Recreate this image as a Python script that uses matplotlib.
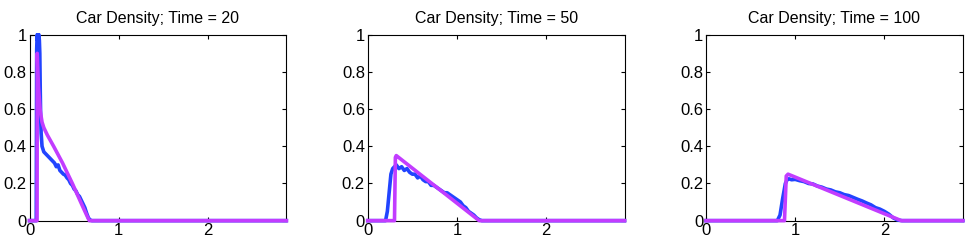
import numpy as np
import matplotlib.pyplot as plt

plt.rcParams['font.family'] = ['Liberation Sans', 'DejaVu Sans']

times = [20, 50, 100]

# simulated (blue) density profiles
sim_x20 = [0, 0.075, 0.08, 0.085, 0.09, 0.095, 0.10, 0.105, 0.11, 0.115, 0.12,
           0.125, 0.13, 0.14, 0.16, 0.18, 0.20, 0.22, 0.24, 0.26, 0.28, 0.30,
           0.32, 0.34, 0.36, 0.38, 0.40, 0.42, 0.44, 0.46, 0.48, 0.50, 0.52,
           0.54, 0.56, 0.58, 0.60, 0.62, 0.64, 0.66, 0.68, 0.70, 2.88]
sim_y20 = [0, 0, 0.92, 1.0, 0.97, 1.0, 0.98, 1.0, 0.97, 0.9, 0.7,
           0.55, 0.47, 0.4, 0.37, 0.36, 0.35, 0.34, 0.33, 0.32, 0.31, 0.29,
           0.3, 0.27, 0.26, 0.25, 0.245, 0.23, 0.22, 0.2, 0.19, 0.17, 0.16,
           0.14, 0.13, 0.11, 0.09, 0.07, 0.04, 0.015, 0.003, 0, 0]

sim_x50 = [0, 0.2, 0.22, 0.24, 0.26, 0.28, 0.30, 0.32, 0.35, 0.38, 0.41, 0.44,
           0.47, 0.50, 0.53, 0.56, 0.59, 0.62, 0.65, 0.68, 0.71, 0.74, 0.77,
           0.80, 0.83, 0.86, 0.89, 0.92, 0.95, 0.98, 1.01, 1.04, 1.07, 1.10,
           1.13, 1.16, 1.19, 1.22, 1.25, 1.28, 2.88]
sim_y50 = [0, 0, 0.05, 0.15, 0.25, 0.28, 0.29, 0.3, 0.28, 0.29, 0.27, 0.28,
           0.26, 0.25, 0.25, 0.23, 0.24, 0.22, 0.21, 0.21, 0.19, 0.19, 0.18,
           0.17, 0.16, 0.15, 0.15, 0.14, 0.13, 0.12, 0.11, 0.1, 0.08, 0.07,
           0.05, 0.04, 0.03, 0.015, 0.005, 0, 0]

sim_x100 = [0, 0.8, 0.83, 0.86, 0.89, 0.91, 0.93, 0.96, 1.0, 1.05, 1.1, 1.15,
            1.2, 1.25, 1.3, 1.35, 1.4, 1.45, 1.5, 1.55, 1.6, 1.65, 1.7, 1.75,
            1.8, 1.85, 1.9, 1.95, 2.0, 2.05, 2.1, 2.15, 2.2, 2.88]
sim_y100 = [0, 0, 0.03, 0.12, 0.2, 0.22, 0.225, 0.22, 0.222, 0.215, 0.21, 0.2,
            0.197, 0.186, 0.18, 0.17, 0.165, 0.155, 0.15, 0.14, 0.135, 0.125, 0.115,
            0.106, 0.095, 0.085, 0.07, 0.062, 0.05, 0.035, 0.015, 0.003, 0, 0]

# model (magenta) profiles
mod_x20 = [0, 0.084, 0.086, 0.10, 0.12, 0.14, 0.16, 0.20, 0.27, 0.37, 0.48, 0.58, 0.64, 0.67, 2.88]
mod_y20 = [0, 0, 0.9, 0.72, 0.59, 0.53, 0.5, 0.46, 0.4, 0.31, 0.2, 0.093, 0.03, 0, 0]

mod_x50 = [0, 0.30, 0.31, 0.32, 1.25, 2.88]
mod_y50 = [0, 0, 0.34, 0.35, 0, 0]

mod_x100 = [0, 0.88, 0.90, 0.92, 2.19, 2.88]
mod_y100 = [0, 0, 0.24, 0.25, 0, 0]

sims = [(sim_x20, sim_y20), (sim_x50, sim_y50), (sim_x100, sim_y100)]
mods = [(mod_x20, mod_y20), (mod_x50, mod_y50), (mod_x100, mod_y100)]

blue = '#2244ff'
magenta = '#c23cff'

fig = plt.figure(figsize=(9.69, 2.43), dpi=100)
lefts = [0.0305, 0.3795, 0.7286]

for i in range(3):
    ax = fig.add_axes([lefts[i], 0.092, 0.265, 0.765])
    ax.plot(sims[i][0], sims[i][1], color=blue, lw=2.6, clip_on=False, zorder=3)
    ax.plot(mods[i][0], mods[i][1], color=magenta, lw=2.6, clip_on=False, zorder=4)
    ax.set_xlim(0, 2.88)
    ax.set_ylim(0, 1)
    ax.set_xticks([0, 1, 2])
    ax.set_xticklabels(['0', '1', '2'])
    ax.set_yticks([0, 0.2, 0.4, 0.6, 0.8, 1])
    ax.set_yticklabels(['0', '0.2', '0.4', '0.6', '0.8', '1'])
    ax.tick_params(direction='in', top=True, right=True, length=3, width=0.8,
                   labelsize=12, pad=2)
    for s in ax.spines.values():
        s.set_linewidth(0.8)
    ax.set_title('Car Density; Time = %d' % times[i], fontsize=11.5, pad=8.5)

fig.savefig('out.png', dpi=100)
